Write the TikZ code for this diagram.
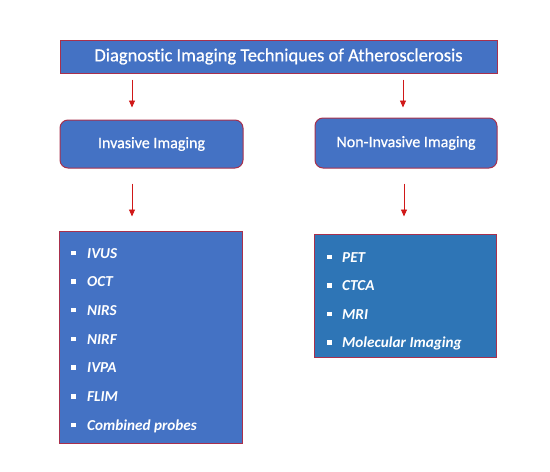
\documentclass[tikz,border=0pt]{standalone}
\usepackage{fontspec}
\setmainfont[Ligatures=NoCommon]{Carlito}
\newfontfamily\headfont[FakeBold=0.7, Ligatures=NoCommon]{Carlito}
\usetikzlibrary{arrows.meta}
\definecolor{boxblue}{HTML}{4472C4}
\definecolor{listblue}{HTML}{2E75B6}
\definecolor{rimred}{HTML}{A8304C}
\definecolor{arrred}{HTML}{D01818}
\tikzset{
  headbox/.style={draw=rimred, line width=1pt, fill=boxblue, text=white, rounded corners=8pt, font=\headfont\fontsize{16}{18}\selectfont},
  listbox/.style={draw=rimred, line width=1pt, fill=boxblue},
  entry/.style={anchor=base west, text=white, inner sep=0pt, font=\fontsize{15.2}{17}\selectfont\bfseries\itshape},
  arr/.style={draw=arrred, line width=0.9pt, -{Triangle[length=7pt,width=6pt]}},
}
\newcommand{\bul}[1]{\rule[3pt]{4.5pt}{4.5pt}\hspace{#1}}
\begin{document}
\begin{tikzpicture}[x=1pt,y=-1pt]
\useasboundingbox (0,0) rectangle (550,472);
% title
\node[listbox, text=white, minimum width=437pt, minimum height=33pt, font=\headfont\fontsize{18.5}{20}\selectfont] (title) at (278.5,56.5) {Diagnostic Imaging Techniques of Atherosclerosis};
% two branches
\node[headbox, minimum width=183pt, minimum height=48pt] (inv) at (151.5,144) {Invasive Imaging};
\node[headbox, minimum width=182pt, minimum height=50pt] (noninv) at (406,143) {Non-Invasive Imaging};
% lists
\node[listbox, minimum width=183pt, minimum height=212pt] (invlist) at (150.5,337) {};
\node[listbox, fill=listblue, minimum width=182pt, minimum height=123pt] (nonlist) at (405,295.5) {};
\foreach \t [count=\i] in {IVUS, OCT, NIRS, NIRF, IVPA, FLIM, Combined probes}
  \node[entry] (inv\i) at (71,{258+28.7*(\i-1)}) {\bul{11.5pt}\t};
\foreach \t [count=\i] in {PET, CTCA, MRI, Molecular Imaging}
  \node[entry] (non\i) at (327,{262+28.5*(\i-1)}) {\bul{10.5pt}\t};
% arrows
\coordinate (invtop) at ([xshift=-19.5pt]inv.north);
\coordinate (nontop) at ([xshift=-3pt]noninv.north);
\coordinate (invbot) at ([xshift=-19.5pt]inv.south);
\coordinate (nonbot) at ([xshift=-2pt]noninv.south);
\draw[arr, shorten <=6pt, shorten >=12pt] (title.south -| invtop) -- (invtop);
\draw[arr, shorten <=6pt, shorten >=10pt] (title.south -| nontop) -- (nontop);
\draw[arr, shorten <=15pt, shorten >=14pt] (invbot) -- (invlist.north -| invbot);
\draw[arr, shorten <=15pt, shorten >=17pt] (nonbot) -- (nonlist.north -| nonbot);
\end{tikzpicture}
\end{document}
